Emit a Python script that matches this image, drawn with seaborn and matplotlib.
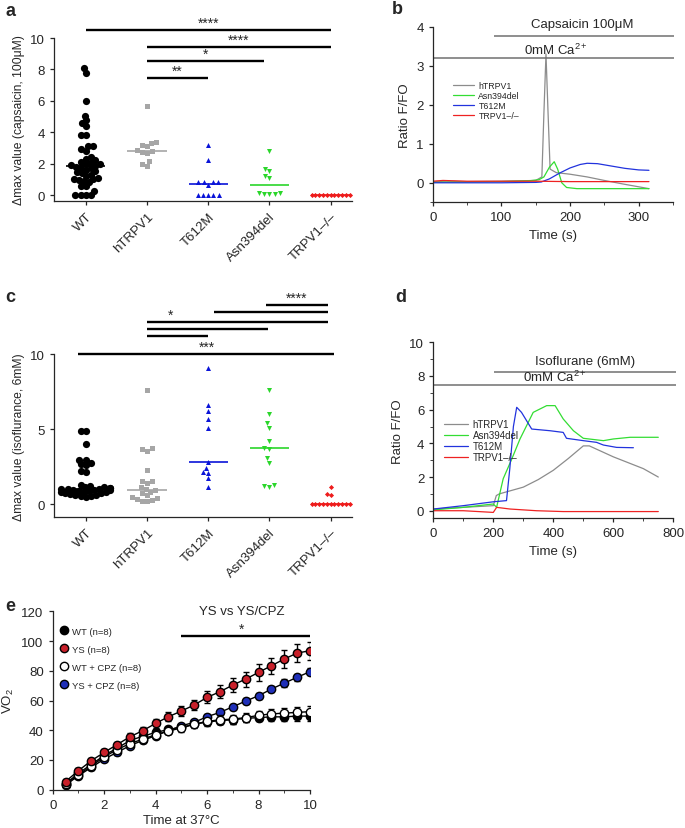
import numpy as np
import pandas as pd
import seaborn as sns
import matplotlib.pyplot as plt
from matplotlib.ticker import FixedLocator, MultipleLocator

GROUPS = ['WT', 'hTRPV1', 'T612M', 'Asn394del', 'TRPV1–/–']
GROUP_COLORS = ['black', '#a6a6a6', '#0a14d8', '#2bd62b', '#ee1c1c']
GROUP_MARKERS = ['o', 's', '^', 'v', 'D']

# panel a: delta max, capsaicin
cap_wt = [8.1, 7.8, 6.0, 5.05, 4.75, 4.6, 4.4, 3.85, 3.85, 3.1, 3.1, 2.9, 2.8, 2.4,
          2.3, 2.2, 2.1, 2.05, 2.0, 1.95, 1.9, 1.85, 1.8, 1.75, 1.7, 1.6, 1.5, 1.45,
          1.4, 1.3, 1.2, 1.1, 1.05, 1.0, 0.95, 0.9, 0.8, 0.6, 0.55, 0.25, 0.0, 0.0,
          0.0, 0.0]
cap_htrpv1 = [5.7, 3.4, 3.3, 3.2, 3.1, 2.85, 2.8, 2.75, 2.7, 2.15, 2.0, 1.85]
cap_t612m = [3.2, 2.2, 0.8, 0.8, 0.8, 0.8, 0.65, 0.0, 0.0, 0.0, 0.0, 0.0]
cap_asn = [2.82, 1.65, 1.5, 1.23, 1.08, 0.15, 0.05, 0.05, 0.05, 0.1]
cap_ko = [0.0] * 11

# panel c: delta max, isoflurane
iso_wt = [4.9, 4.9, 4.0, 2.98, 2.98, 2.75, 2.67, 2.6, 2.24, 2.18, 1.3, 1.22, 1.15,
          1.12, 1.1, 1.08, 1.05, 1.02, 1.0, 0.98, 0.95, 0.92, 0.9, 0.88, 0.85, 0.82,
          0.8, 0.75, 0.72, 0.68, 0.65, 0.6, 0.57, 0.53, 0.5]
iso_htrpv1 = [7.64, 3.73, 3.69, 3.56, 2.31, 1.53, 1.53, 1.42, 1.13, 1.0, 0.95, 0.85,
              0.75, 0.6, 0.5, 0.45, 0.35, 0.3, 0.25, 0.25]
iso_t612m = [9.07, 6.62, 6.2, 5.69, 5.09, 2.8, 2.4, 2.13, 2.09, 1.73, 1.13]
iso_asn = [7.64, 6.02, 5.42, 5.11, 4.24, 3.75, 3.69, 3.07, 2.78, 1.29, 1.17, 1.24]
iso_ko = [1.13, 0.69, 0.62, 0.0, 0.0, 0.0, 0.0, 0.0, 0.0, 0.0, 0.0, 0.0, 0.0, 0.0]

# panel b: traces, capsaicin
TRACES = ['hTRPV1', 'Asn394del', 'T612M', 'TRPV1–/–']
TRACE_COLORS = ['#8c8c8c', '#33dd33', '#2233dd', '#ee2222']
b_t_h = [0, 20, 50, 100, 150, 159, 162, 165, 168, 171, 180, 200, 225, 250, 280, 315]
b_v_h = [0.03, 0.04, 0.03, 0.04, 0.06, 0.15, 1.8, 3.3, 1.8, 0.35, 0.26, 0.22, 0.15, 0.06, -0.04, -0.15]
b_t_g = [0, 50, 100, 140, 155, 162, 170, 177, 182, 188, 195, 210, 250, 315]
b_v_g = [0.01, 0.02, 0.03, 0.05, 0.08, 0.15, 0.4, 0.54, 0.35, 0.0, -0.12, -0.15, -0.15, -0.15]
b_t_b = [0, 50, 100, 150, 158, 170, 185, 200, 215, 225, 240, 260, 280, 300, 315]
b_v_b = [0.0, 0.0, 0.0, 0.01, 0.02, 0.1, 0.25, 0.38, 0.47, 0.5, 0.49, 0.43, 0.37, 0.33, 0.32]
b_t_r = [0, 15, 50, 100, 150, 200, 250, 315]
b_v_r = [0.04, 0.06, 0.04, 0.04, 0.04, 0.03, 0.03, 0.03]

# panel d: traces, isoflurane
d_t_h = [0, 100, 200, 210, 220, 300, 350, 400, 450, 500, 520, 600, 700, 750]
d_v_h = [0.1, 0.2, 0.3, 0.9, 1.0, 1.4, 1.85, 2.4, 3.1, 3.85, 3.85, 3.2, 2.5, 2.0]
d_t_g = [0, 100, 200, 211, 233, 260, 289, 333, 378, 406, 433, 467, 500, 567, 600, 656, 750]
d_v_g = [0.05, 0.2, 0.4, 0.2, 1.9, 3.0, 4.26, 5.84, 6.24, 6.24, 5.45, 4.75, 4.3, 4.16, 4.26, 4.36, 4.36]
d_t_b = [0, 100, 200, 244, 255, 267, 278, 294, 328, 389, 433, 444, 500, 544, 567, 611, 667]
d_v_b = [0.1, 0.3, 0.53, 0.6, 2.5, 5.0, 6.14, 5.84, 4.85, 4.75, 4.65, 4.3, 4.16, 4.06, 3.9, 3.76, 3.74]
d_t_r = [0, 100, 200, 211, 256, 344, 433, 600, 750]
d_v_r = [0.0, 0.0, -0.1, 0.2, 0.1, 0.0, -0.05, -0.05, -0.05]

# panel e: VO2
e_time = [0.5, 1.0, 1.5, 2.0, 2.5, 3.0, 3.5, 4.0, 4.5, 5.0,
          5.5, 6.0, 6.5, 7.0, 7.5, 8.0, 8.5, 9.0, 9.5, 10.0]
e_wt = [4, 11, 17, 23, 28, 33, 36, 38.5, 40.5, 42, 44, 45.5, 46.5, 47, 48, 48.5, 49, 49, 49.5, 49.5]
e_wt_err = [1, 1.5, 1.5, 1.5, 2, 2, 2, 2, 2, 2, 2, 2.5, 2.5, 2.5, 2.5, 2.5, 3, 3, 3, 3]
e_ys = [5.5, 12.8, 19.5, 25.1, 30.3, 35.6, 39.7, 44.6, 49.1, 52.9,
        57, 62.1, 65.9, 70.4, 74.4, 78.9, 83.4, 87.9, 91.9, 93.5]
e_ys_err = [1.5, 2, 2, 2, 2, 2.5, 2.5, 3, 3, 3.5, 3.5, 4, 4.5, 5, 5, 5.5, 5.5, 6, 6, 6]
e_wtcpz = [4, 10, 16, 22, 27, 31, 34, 37, 39.5, 41.5, 44, 46, 47, 47.5, 48.5, 50, 51, 51.5, 52, 52.5]
e_wtcpz_err = [1, 1.5, 1.5, 1.5, 2, 2, 2, 2, 2, 2.5, 2.5, 2.5, 3, 3, 3, 3, 3.5, 3.5, 3.5, 3.5]
e_yscpz = [3.1, 9.4, 15, 20.6, 25.1, 29.6, 33.2, 36.3, 39.7, 43,
           45.3, 49.1, 52, 55.8, 59.6, 63.2, 67.7, 71.7, 75.6, 79.4]
e_yscpz_err = [1, 1, 1.5, 1.5, 1.5, 1.5, 1.5, 1.5, 1.5, 1.5, 1.5, 2, 2, 2, 2, 2, 2, 2.5, 2.5, 2.5]

W, H = 685, 829
sns.set_style('ticks')
plt.rcParams['font.family'] = ['Liberation Sans', 'DejaVu Sans']
plt.rcParams['mathtext.fontset'] = 'custom'
plt.rcParams['mathtext.rm'] = 'Liberation Sans'
plt.rcParams['mathtext.it'] = 'Liberation Sans:italic'
plt.rcParams['mathtext.bf'] = 'Liberation Sans:bold'
plt.rcParams['axes.linewidth'] = 0.9
plt.rcParams['xtick.major.width'] = 0.9
plt.rcParams['ytick.major.width'] = 0.9
plt.rcParams['xtick.major.size'] = 3
plt.rcParams['ytick.major.size'] = 3
plt.rcParams['xtick.minor.size'] = 2
plt.rcParams['ytick.minor.size'] = 2
plt.rcParams['xtick.labelsize'] = 9.5
plt.rcParams['ytick.labelsize'] = 9.5
plt.rcParams['axes.labelsize'] = 9.5

fig = plt.figure(figsize=(W / 100, H / 100), dpi=100)


def px_axes(left, top, right, bottom):
    return fig.add_axes([left / W, 1 - bottom / H, (right - left) / W, (bottom - top) / H])


swarm_fix = []  # (collection, shown marker size) -> enlarged after layout


def scatter_panel(ax, groups_vals, ylim, yticks, ylabel):
    df = pd.DataFrame({'group': np.repeat(GROUPS, [len(v) for v in groups_vals]),
                       'value': np.concatenate(groups_vals)})
    for i, g in enumerate(GROUPS):
        sub = df[df['group'] == g]
        n_before = len(ax.collections)
        # lay out with a small size, then show bigger so the points overlap like the original
        sns.swarmplot(data=sub, x='group', y='value', order=GROUPS, ax=ax,
                      color=GROUP_COLORS[i], marker=GROUP_MARKERS[i],
                      size=3.6 if i < 4 else 2.6, linewidth=0, warn_thresh=1)
        swarm_fix.append((ax.collections[n_before], 5.2 if i != 4 else 4.4))
        med = np.median(sub['value'])
        ax.hlines(med, i - 0.32, i + 0.32, color=GROUP_COLORS[i], lw=1.2, zorder=5)
    ax.set_xlim(-0.52, 4.35)
    ax.set_ylim(*ylim)
    ax.set_yticks(yticks)
    ax.set_xlabel('')
    ax.set_ylabel(ylabel, fontsize=8.7)
    ax.tick_params(axis='x', rotation=45)
    for lab in ax.get_xticklabels():
        lab.set_ha('right')
        lab.set_rotation_mode('anchor')
    sns.despine(ax=ax)


def sig_bar(ax, x0, x1, y, text=None, tx=None):
    ax.plot([x0, x1], [y, y], color='black', lw=1.7, clip_on=False, solid_capstyle='butt')
    if text:
        ax.text((x0 + x1) / 2 if tx is None else tx, y + 0.02, text, ha='center',
                va='bottom', fontsize=10)


# ---- a
ax_a = px_axes(54, 39, 352, 202)
scatter_panel(ax_a, [cap_wt, cap_htrpv1, cap_t612m, cap_asn, cap_ko],
              (-0.38, 10), [0, 2, 4, 6, 8, 10], 'Δmax value (capsaicin, 100μM)')
sig_bar(ax_a, 0, 4, 10.53, '****')
sig_bar(ax_a, 1, 4, 9.4, '****')
sig_bar(ax_a, 1, 2.92, 8.55, '*', tx=1.96)
sig_bar(ax_a, 1, 2, 7.45, '**')


def trace_panel(ax, series, xlim, ylim, legend_anchor, legend_fs):
    rows = []
    for name, (t, v) in zip(TRACES, series):
        rows.append(pd.DataFrame({'time': t, 'ratio': v, 'trace': name}))
    df = pd.concat(rows, ignore_index=True)
    sns.lineplot(data=df, x='time', y='ratio', hue='trace', hue_order=TRACES,
                 palette=TRACE_COLORS, estimator=None, lw=0.9, ax=ax)
    ax.set_xlim(*xlim)
    ax.set_ylim(*ylim)
    ax.set_xlabel('Time (s)')
    ax.set_ylabel('Ratio F/FO')
    ax.legend(loc='upper left', bbox_to_anchor=legend_anchor, frameon=False,
              fontsize=legend_fs, handlelength=2.4, labelspacing=0.1,
              borderaxespad=0, handletextpad=0.5)
    sns.despine(ax=ax)


# ---- b
ax_b = px_axes(432.7, 27.7, 673, 203.3)
trace_panel(ax_b, [(b_t_h, b_v_h), (b_t_g, b_v_g), (b_t_b, b_v_b), (b_t_r, b_v_r)],
            (0, 350), (-0.5, 4), (0.07, 0.71), 6.3)
ax_b.set_xticks([0, 100, 200, 300])
ax_b.xaxis.set_minor_locator(FixedLocator([50, 150, 250, 350]))
ax_b.set_yticks([0, 1, 2, 3, 4])
ax_b.yaxis.set_minor_locator(FixedLocator([-0.5]))
ax_b.hlines(3.75, 89, 351, color='#707070', lw=1.1, clip_on=False)
ax_b.hlines(3.19, 0, 351, color='#707070', lw=1.1, clip_on=False)
ax_b.text(218, 4.07, 'Capsaicin 100μM', ha='center', va='center', fontsize=9.5)
ax_b.text(180, 3.42, '0mM Ca$^{2+}$', ha='center', va='center', fontsize=9.5)

# ---- c
ax_c = px_axes(54, 355.3, 352, 518.3)
scatter_panel(ax_c, [iso_wt, iso_htrpv1, iso_t612m, iso_asn, iso_ko],
              (-0.87, 10), [0, 5, 10], 'Δmax value (isoflurance, 6mM)')
sig_bar(ax_c, -0.13, 4.05, 10.0, '***', tx=1.98)
sig_bar(ax_c, 1, 2, 11.24)
sig_bar(ax_c, 1, 2.98, 11.7)
sig_bar(ax_c, 1, 3.95, 12.13, '*', tx=1.38)
sig_bar(ax_c, 2.1, 3.95, 12.8)
sig_bar(ax_c, 2.95, 3.95, 13.28, '****', tx=3.45)

# ---- d
ax_d = px_axes(433.3, 343.3, 673.3, 519.3)
trace_panel(ax_d, [(d_t_h, d_v_h), (d_t_g, d_v_g), (d_t_b, d_v_b), (d_t_r, d_v_r)],
            (0, 800), (-0.45, 10), (0.03, 0.585), 7)
ax_d.set_xticks([0, 200, 400, 600, 800])
ax_d.xaxis.set_minor_locator(FixedLocator([100, 300, 500, 700]))
ax_d.set_yticks([0, 2, 4, 6, 8, 10])
ax_d.yaxis.set_minor_locator(FixedLocator([1, 3, 5, 7, 9]))
ax_d.hlines(8.22, 203, 808, color='#707070', lw=1.1, clip_on=False)
ax_d.hlines(7.45, 0, 808, color='#707070', lw=1.1, clip_on=False)
ax_d.text(505, 8.9, 'Isoflurane (6mM)', ha='center', va='center', fontsize=9.5)
ax_d.text(405, 8.0, '0mM Ca$^{2+}$', ha='center', va='center', fontsize=9.5)

# ---- e
ax_e = px_axes(52.7, 612.3, 310, 790.7)
e_series = [('WT (n=8)', e_wt, e_wt_err, 'black'),
            ('YS + CPZ (n=8)', e_yscpz, e_yscpz_err, '#1f2fb8'),
            ('WT + CPZ (n=8)', e_wtcpz, e_wtcpz_err, 'white'),
            ('YS (n=8)', e_ys, e_ys_err, '#c8202a')]
for label, vals, err, fc in e_series:
    ax_e.errorbar(e_time, vals, yerr=err, fmt='none', ecolor='black', elinewidth=1,
                  capsize=2.5, capthick=1)
    sns.lineplot(x=e_time, y=vals, color='black', lw=1, marker='o', markersize=6,
                 markerfacecolor=fc, markeredgecolor='black', markeredgewidth=1,
                 ax=ax_e, label=label)
h, l = ax_e.get_legend_handles_labels()
lookup = dict(zip(l, h))
leg_order = ['WT (n=8)', 'YS (n=8)', 'WT + CPZ (n=8)', 'YS + CPZ (n=8)']
leg = ax_e.legend([lookup[k] for k in leg_order], leg_order, loc='upper left',
                  bbox_to_anchor=(0.03, 0.935), frameon=False, fontsize=6.8,
                  handlelength=0, handletextpad=0.8, labelspacing=0.95, borderaxespad=0)
for lh in leg.legend_handles:
    lh.set_linestyle('none')
ax_e.set_xlim(0, 10)
ax_e.set_ylim(0, 120)
ax_e.set_xticks([0, 2, 4, 6, 8, 10])
ax_e.xaxis.set_minor_locator(MultipleLocator(1))
ax_e.set_yticks(range(0, 121, 20))
ax_e.set_xlabel('Time at 37°C', labelpad=2)
ax_e.set_ylabel('VO$_2$')
sns.despine(ax=ax_e)
ax_e.plot([5, 10], [103.6, 103.6], color='black', lw=1.7, solid_capstyle='butt', clip_on=False)
ax_e.text(7.35, 103.8, '*', ha='center', va='bottom', fontsize=10)
ax_e.text(7.35, 120, 'YS vs YS/CPZ', ha='center', va='center', fontsize=9.5)

# panel letters
for letter, x, y in [('a', 5, 12), ('b', 392, 10), ('c', 5, 297), ('d', 395, 297), ('e', 5, 607)]:
    fig.text(x / W, 1 - y / H, letter, fontsize=13, fontweight='bold', va='center', ha='left')

# run the swarm layout once, then freeze positions and enlarge the markers
fig.canvas.draw()
for coll, shown in swarm_fix:
    offsets = coll.get_offsets().copy()
    if 'draw' in coll.__dict__:
        del coll.draw
    coll.set_offsets(offsets)
    coll.set_sizes([shown ** 2])

fig.savefig('out.png', dpi=100)
